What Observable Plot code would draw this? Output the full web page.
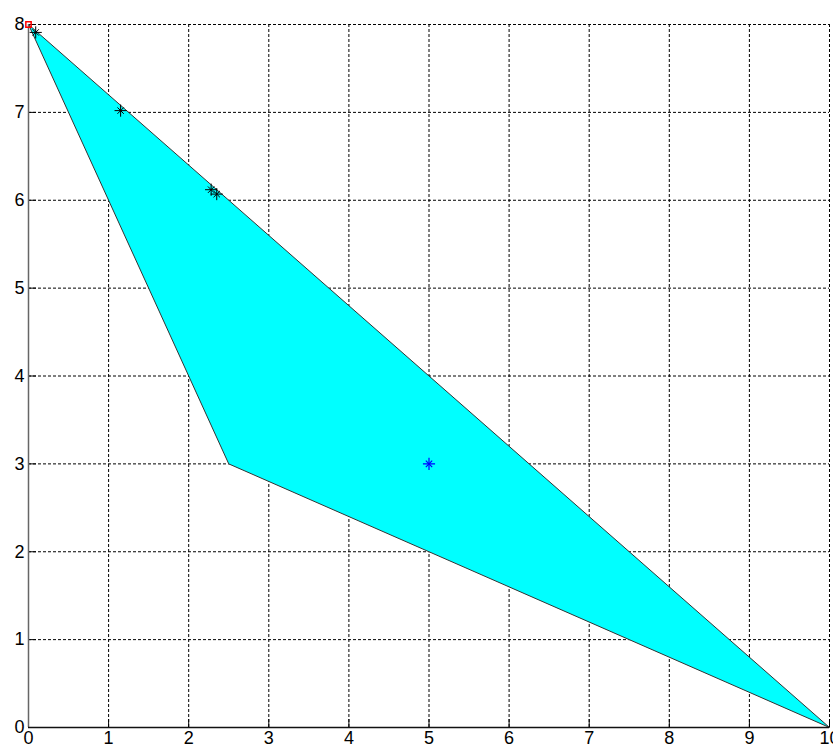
<!DOCTYPE html>
<html>
<head>
<meta charset="utf-8">
<script src="https://cdn.jsdelivr.net/npm/d3@7"></script>
<script src="https://cdn.jsdelivr.net/npm/@observablehq/plot@0.6"></script>
<style>
  html, body { margin: 0; padding: 0; background: #fff; }
  #chart svg { display: block; }
  #chart svg text { font-size: 18px !important; font-family: 'Liberation Sans', Arial, sans-serif !important; fill: #000; }
</style>
</head>
<body>
<div id="chart"></div>
<script>
// Polygon vertices (region)
const polyX = [0, 10, 2.5];
const polyY = [8, 0, 3];
// Black star markers
const starX = [0.09, 1.15, 2.28, 2.35];
const starY = [7.91, 7.02, 6.12, 6.07];
// Blue star marker
const blueX = [5];
const blueY = [3];
// Red marker
const redX = [0];
const redY = [8];
// Ticks
const xTicks = [0, 1, 2, 3, 4, 5, 6, 7, 8, 9, 10];
const yTicks = [0, 1, 2, 3, 4, 5, 6, 7, 8];

const poly = polyX.map((x, i) => ({x, y: polyY[i]}));
const stars = starX.map((x, i) => ({x, y: starY[i]}));
const blue = blueX.map((x, i) => ({x, y: blueY[i]}));
const red = redX.map((x, i) => ({x, y: redY[i]}));

const chart = Plot.plot({
  width: 833,
  height: 749,
  marginLeft: 28,
  marginRight: 4,
  marginTop: 24,
  marginBottom: 22,
  style: {fontFamily: "'Liberation Sans', Arial, sans-serif", fontSize: "18px", color: "#000", background: "#fff"},
  x: {domain: [0, 10], label: null},
  y: {domain: [0, 8], label: null},
  marks: [
    Plot.ruleX(xTicks.slice(1), {stroke: "#000", strokeWidth: 1, strokeDasharray: "3,2"}),
    Plot.ruleY(yTicks.slice(1), {stroke: "#000", strokeWidth: 1, strokeDasharray: "3,2"}),
    Plot.line([...poly, poly[0]], {x: "x", y: "y", fill: "#00ffff", stroke: "#333", strokeWidth: 1}),
    Plot.axisX({ticks: xTicks, tickSize: -8, tickPadding: 12, stroke: "#000", fontSize: 18, anchor: "bottom", label: null}),
    Plot.axisY({ticks: yTicks, tickSize: -8, tickPadding: 12, stroke: "#000", fontSize: 18, anchor: "left", label: null}),
    Plot.ruleX([0], {stroke: "#666", strokeWidth: 1.5}),
    Plot.ruleY([0], {stroke: "#111", strokeWidth: 1.5}),
    Plot.dot(red, {x: "x", y: "y", symbol: "square", r: 3, stroke: "red", fill: "none", strokeWidth: 1.5}),
    Plot.dot(stars, {x: "x", y: "y", symbol: "plus", r: 4, stroke: "#000", strokeWidth: 1}),
    Plot.dot(stars, {x: "x", y: "y", symbol: "times", r: 3, stroke: "#000", strokeWidth: 1}),
    Plot.dot(blue, {x: "x", y: "y", symbol: "plus", r: 4, stroke: "#0000ff", strokeWidth: 1.2}),
    Plot.dot(blue, {x: "x", y: "y", symbol: "times", r: 3, stroke: "#0000ff", strokeWidth: 1.2})
  ]
});
document.getElementById("chart").appendChild(chart);
</script>
</body>
</html>
